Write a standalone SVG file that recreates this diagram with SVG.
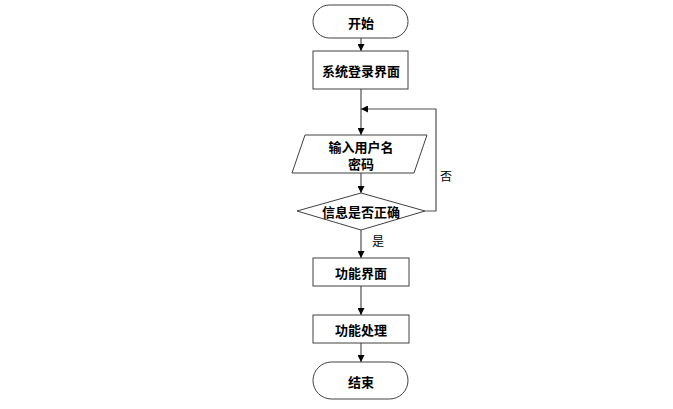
<svg xmlns="http://www.w3.org/2000/svg" width="673" height="409" viewBox="0 0 673 409">
<style>
.s{fill:#fff;stroke:#404040;stroke-width:1}
.t{font-family:"Noto Sans CJK SC","Liberation Sans",sans-serif;font-size:13px;font-weight:bold;fill:#000;text-anchor:middle;dominant-baseline:central}
.l{font-family:"Noto Sans CJK SC","Liberation Sans",sans-serif;font-size:12px;fill:#000;text-anchor:middle;dominant-baseline:central}
.c{fill:none;stroke:#505050;stroke-width:1.2}
</style>
<defs>
<marker id="a" viewBox="0 0 10 10" refX="10" refY="5" markerWidth="7" markerHeight="7" markerUnits="userSpaceOnUse" orient="auto">
<path d="M0,0 L10,5 L0,10 z" fill="#000"/>
</marker>
</defs>
<rect width="673" height="409" fill="#fff"/>
<g id="connectors">
<line class="c" x1="361" y1="38" x2="361" y2="51" marker-end="url(#a)"/>
<line class="c" x1="361" y1="89" x2="361" y2="135" marker-end="url(#a)"/>
<line class="c" x1="361" y1="173" x2="361" y2="193" marker-end="url(#a)"/>
<line class="c" x1="361" y1="230" x2="361" y2="258" marker-end="url(#a)"/>
<line class="c" x1="361" y1="286" x2="361" y2="315" marker-end="url(#a)"/>
<line class="c" x1="361" y1="343" x2="361" y2="362" marker-end="url(#a)"/>
<polyline class="c" points="425,211 436,211 436,109 361,109" marker-end="url(#a)"/>
<text class="l" x="446" y="175">否</text>
<text class="l" x="378" y="240">是</text>
</g>
<g id="start">
<rect class="s" x="313" y="5" width="95" height="33" rx="16.5"/>
<text class="t" x="361" y="22">开始</text>
</g>
<g id="login">
<rect class="s" x="313" y="51" width="95" height="38"/>
<text class="t" x="361" y="70">系统登录界面</text>
</g>
<g id="input">
<polygon class="s" points="305,135 427,135 414,173 292,173"/>
<text class="t" x="361" y="146">输入用户名</text>
<text class="t" x="361" y="163.5">密码</text>
</g>
<g id="check">
<polygon class="s" points="361,193 425,211 361,230 297,211"/>
<text class="t" x="361" y="211">信息是否正确</text>
</g>
<g id="func">
<rect class="s" x="313" y="258" width="96" height="28"/>
<text class="t" x="361" y="272">功能界面</text>
</g>
<g id="proc">
<rect class="s" x="313" y="315" width="96" height="28"/>
<text class="t" x="361" y="329">功能处理</text>
</g>
<g id="end">
<rect class="s" x="313" y="362" width="95" height="37" rx="18.5"/>
<text class="t" x="361" y="381">结束</text>
</g>
</svg>
